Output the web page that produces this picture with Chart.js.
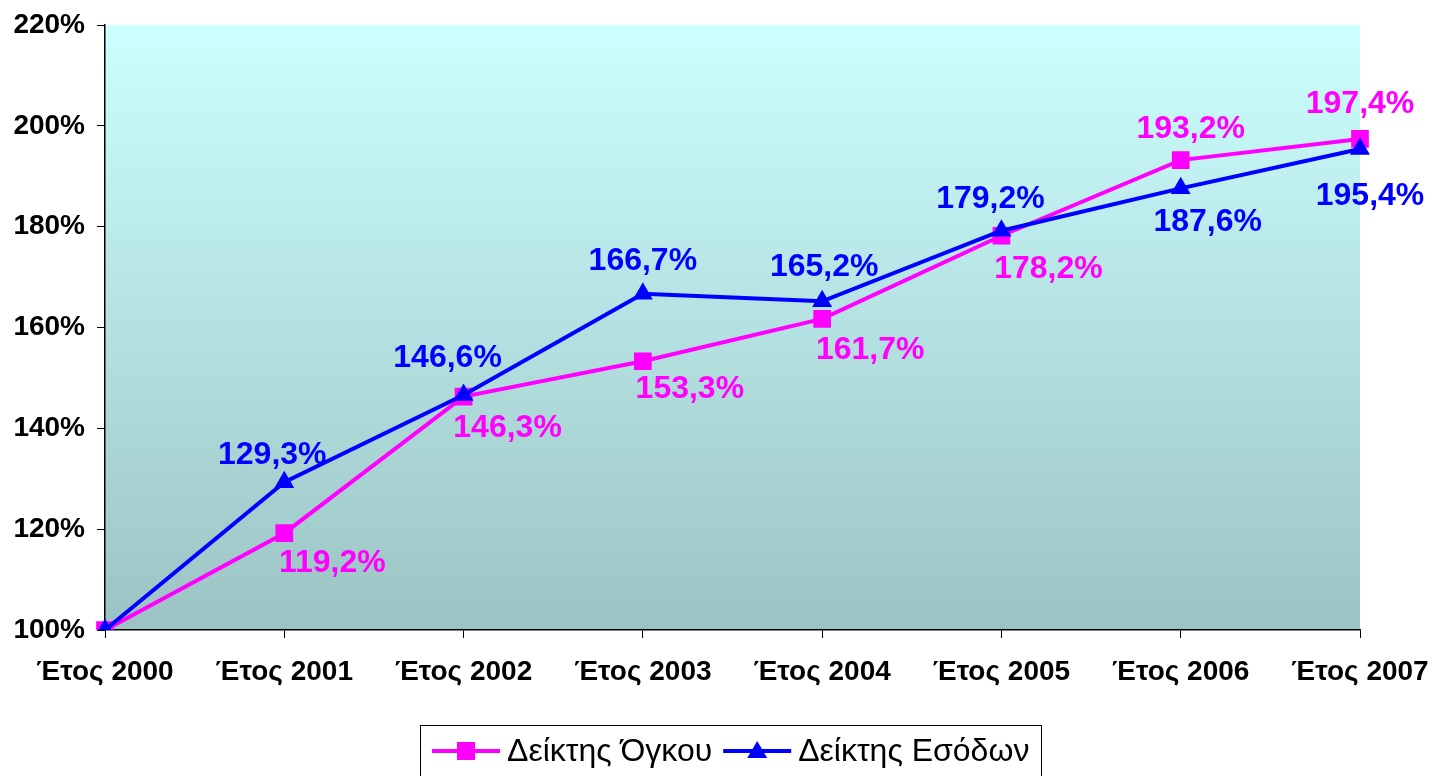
<!DOCTYPE html>
<html>
<head>
<meta charset="utf-8">
<script src="https://cdn.jsdelivr.net/npm/chart.js@4/dist/chart.umd.min.js"></script>
<style>
  html, body { margin: 0; padding: 0; background: #fff; }
  #wrap { width: 1435px; height: 776px; position: relative; }
</style>
</head>
<body>
<div id="wrap"><canvas id="myChart"></canvas></div>
<script>
// ---------------- data ----------------
var years = ['Έτος 2000', 'Έτος 2001', 'Έτος 2002', 'Έτος 2003', 'Έτος 2004', 'Έτος 2005', 'Έτος 2006', 'Έτος 2007'];
var deiktisOgkou  = [100, 119.2, 146.3, 153.3, 161.7, 178.2, 193.2, 197.4];
var deiktisEsodon = [100, 129.3, 146.6, 166.7, 165.2, 179.2, 187.6, 195.4];
var seriesNames = ['Δείκτης Όγκου', 'Δείκτης Εσόδων'];
var yTicks = [100, 120, 140, 160, 180, 200, 220];

// label offsets from each point (px), first point has no label
var ogkouLabelDx  = [0, 48, 44, 47, 48, 47, 10, 0];
var ogkouLabelDy  = [0, 30, 32, 28, 31, 33, -31, -35];
var esodonLabelDx = [0, -12, -16, 0, 2, -11, 27, 10];
var esodonLabelDy = [0, -27, -37, -33, -34, -32, 34, 47];

var PINK = '#FF00FF';
var BLUE = '#0000FF';
var FONT = '"Liberation Sans", Arial, sans-serif';

function fmt(v){
	return v.toFixed(1).replace('.', ',') + '%';
}

// ---------------- plugins ----------------
var bgPlugin = {
	id: 'bg',
	beforeDraw: function(chart){
		var a = chart.chartArea, ctx = chart.ctx;
		var g = ctx.createLinearGradient(0, a.top, 0, a.bottom);
		g.addColorStop(0, '#CCFFFF');
		g.addColorStop(1, '#9CC3C3');
		ctx.save();
		ctx.fillStyle = g;
		ctx.fillRect(a.left, a.top, a.right - a.left, a.bottom - a.top);
		ctx.restore();
	}
};

var labelPlugin = {
	id: 'valueLabels',
	afterDatasetsDraw: function(chart){
		var ctx = chart.ctx;
		var sets = [
			{ idx: 0, color: PINK, dx: ogkouLabelDx, dy: ogkouLabelDy },
			{ idx: 1, color: BLUE, dx: esodonLabelDx, dy: esodonLabelDy }
		];
		ctx.save();
		ctx.font = 'bold 32px ' + FONT;
		ctx.textAlign = 'center';
		ctx.textBaseline = 'middle';
		sets.forEach(function(s){
			var meta = chart.getDatasetMeta(s.idx);
			var vals = chart.data.datasets[s.idx].data;
			ctx.fillStyle = s.color;
			meta.data.forEach(function(pt, i){
				if (i === 0) return;
				ctx.fillText(fmt(vals[i]), pt.x + s.dx[i], pt.y + s.dy[i]);
			});
		});
		ctx.restore();
	}
};

var legendPlugin = {
	id: 'boxLegend',
	afterDraw: function(chart){
		var ctx = chart.ctx;
		var left = 420, top = 725, right = 1041, bottom = 800;
		var cy = 751;
		ctx.save();
		ctx.strokeStyle = '#000';
		ctx.lineWidth = 1;
		ctx.strokeRect(left + 0.5, top + 0.5, right - left, bottom - top);
		ctx.font = '32px ' + FONT;
		ctx.textBaseline = 'middle';
		ctx.textAlign = 'left';

		var x = left + 12;
		var items = [
			{ name: seriesNames[0], color: PINK, style: 'rect' },
			{ name: seriesNames[1], color: BLUE, style: 'triangle' }
		];
		items.forEach(function(it){
			ctx.strokeStyle = it.color;
			ctx.fillStyle = it.color;
			ctx.lineWidth = 4;
			ctx.beginPath();
			ctx.moveTo(x, cy);
			ctx.lineTo(x + 68, cy);
			ctx.stroke();
			var mx = x + 34;
			if (it.style === 'rect') {
				ctx.fillRect(mx - 9, cy - 9, 18, 18);
			} else {
				ctx.beginPath();
				ctx.moveTo(mx, cy - 10);
				ctx.lineTo(mx + 10, cy + 7);
				ctx.lineTo(mx - 10, cy + 7);
				ctx.closePath();
				ctx.fill();
			}
			ctx.fillStyle = '#000';
			ctx.fillText(it.name, x + 75, cy + 1);
			x += 75 + ctx.measureText(it.name).width + 11;
		});
		ctx.restore();
	}
};

// ---------------- chart ----------------
var el = document.getElementById('myChart');
var myChart = new Chart(el, {
	type: 'line',
	data: {
		labels: years,
		datasets: [
			{
				label: seriesNames[0],
				data: deiktisOgkou,
				borderColor: PINK,
				backgroundColor: PINK,
				borderWidth: 4,
				pointStyle: 'rect',
				pointRadius: 12.5,
				pointBorderWidth: 0,
				tension: 0,
				order: 1
			},
			{
				label: seriesNames[1],
				data: deiktisEsodon,
				borderColor: BLUE,
				backgroundColor: BLUE,
				borderWidth: 4,
				pointStyle: 'triangle',
				pointRadius: 11.5,
				pointBorderWidth: 0,
				tension: 0,
				order: 0
			}
		]
	},
	options: {
		responsive: true,
		maintainAspectRatio: false,
		animation: false,
		layout: { padding: { top: 25, right: 75, left: 0, bottom: 86 } },
		plugins: {
			legend: { display: false },
			tooltip: { enabled: false }
		},
		scales: {
			x: {
				offset: false,
				grid: { display: true, drawOnChartArea: false, drawTicks: true, tickLength: 8, color: '#000' },
				border: { display: true, color: '#000', width: 1.5 },
				ticks: {
					color: '#000',
					padding: 17,
					maxRotation: 0,
					autoSkip: false,
					font: { family: FONT, size: 28, weight: 'bold' }
				},
				afterFit: function(scale){
					scale.height = 60;
					scale.paddingLeft = 0;
					scale.paddingRight = 0;
				}
			},
			y: {
				min: 100,
				max: 220,
				afterBuildTicks: function(scale){
					scale.ticks = yTicks.map(function(v){ return { value: v }; });
				},
				grid: { display: true, drawOnChartArea: false, drawTicks: true, tickLength: 8, color: '#000' },
				border: { display: true, color: '#000', width: 1.5 },
				ticks: {
					color: '#000',
					padding: 12,
					font: { family: FONT, size: 28, weight: 'bold' },
					callback: function(v){ return v + '%'; }
				},
				afterFit: function(scale){
					scale.width = 105;
					scale.paddingTop = 0;
					scale.paddingBottom = 0;
				}
			}
		}
	},
	plugins: [bgPlugin, labelPlugin, legendPlugin]
});
</script>
</body>
</html>
